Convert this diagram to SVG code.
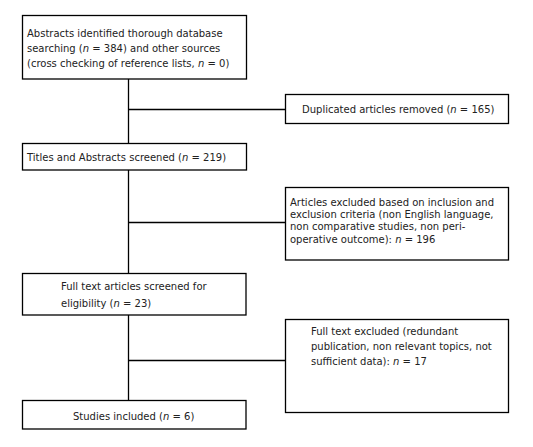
<svg xmlns="http://www.w3.org/2000/svg" width="533" height="447" viewBox="0 0 533 447">
<style>
.box{fill:#fff;stroke:#000;stroke-width:1.3}
.ln{stroke:#000;stroke-width:1.3;fill:none}
text{font-family:"DejaVu Sans",Verdana,sans-serif;font-size:10px;fill:#222}
.i{font-style:italic}
</style>
<rect width="533" height="447" fill="#fff"/>
<g id="connectors">
<line class="ln" x1="128.5" y1="79" x2="128.5" y2="143"/>
<line class="ln" x1="128.5" y1="109.5" x2="285" y2="109.5"/>
<line class="ln" x1="128.5" y1="170" x2="128.5" y2="273"/>
<line class="ln" x1="128.5" y1="222.5" x2="285" y2="222.5"/>
<line class="ln" x1="128.5" y1="315" x2="128.5" y2="400"/>
<line class="ln" x1="128.5" y1="360.5" x2="285" y2="360.5"/>
</g>
<g id="n1">
<rect class="box" x="22.5" y="15.5" width="224" height="63.5"/>
<text x="27" y="37">Abstracts identified thorough database</text>
<text x="27" y="52">searching (<tspan class="i">n</tspan> = 384) and other sources</text>
<text x="27" y="67">(cross checking of reference lists, <tspan class="i">n</tspan> = 0)</text>
</g>
<g id="n2">
<rect class="box" x="285.5" y="94.5" width="223" height="29"/>
<text x="302" y="113">Duplicated articles removed (<tspan class="i">n</tspan> = 165)</text>
</g>
<g id="n3">
<rect class="box" x="22.5" y="143.5" width="224" height="26.5"/>
<text x="27" y="160.5">Titles and Abstracts screened (<tspan class="i">n</tspan> = 219)</text>
</g>
<g id="n4">
<rect class="box" x="285.5" y="187.5" width="223" height="72.5"/>
<text x="290" y="205.5">Articles excluded based on inclusion and</text>
<text x="290" y="218">exclusion criteria (non English language,</text>
<text x="290" y="230">non comparative studies, non peri-</text>
<text x="290" y="242.5">operative outcome): <tspan class="i">n</tspan> = 196</text>
</g>
<g id="n5">
<rect class="box" x="22.5" y="273.5" width="223.5" height="41.5"/>
<text x="61" y="289.5">Full text articles screened for</text>
<text x="61" y="307">eligibility (<tspan class="i">n</tspan> = 23)</text>
</g>
<g id="n6">
<rect class="box" x="285.5" y="319.5" width="223" height="93"/>
<text x="311" y="335">Full text excluded (redundant</text>
<text x="311" y="350">publication, non relevant topics, not</text>
<text x="311" y="364.5">sufficient data): <tspan class="i">n</tspan> = 17</text>
</g>
<g id="n7">
<rect class="box" x="22.5" y="400.5" width="223.5" height="28.5"/>
<text x="73" y="419.5">Studies included (<tspan class="i">n</tspan> = 6)</text>
</g>
</svg>
